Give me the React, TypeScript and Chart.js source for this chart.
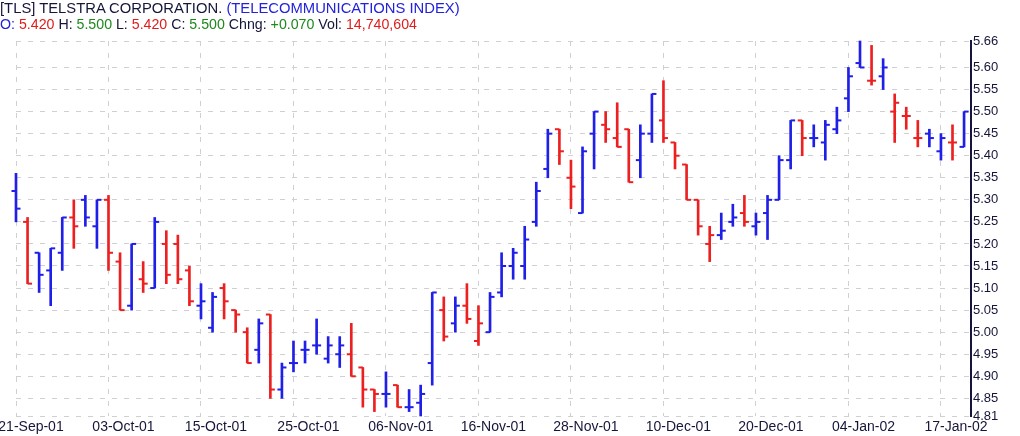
import React, { useEffect, useRef } from 'react';
import { Chart, registerables } from 'chart.js';

Chart.register(...registerables);

// Daily OHLC, 21-Sep-01 .. 18-Jan-02 (83 trading days)
const opens = [
  5.32, 5.25, 5.18, 5.14, 5.18, 5.26, 5.30, 5.24, 5.30, 5.16,
  5.06, 5.12, 5.10, 5.20, 5.20, 5.14, 5.06, 5.01, 5.10, 5.05,
  5.00, 4.96, 5.04, 4.87, 4.93, 4.96, 4.97, 4.94, 4.95, 4.95,
  4.92, 4.87, 4.86, 4.88, 4.83, 4.84, 4.93, 5.05, 5.02, 5.06,
  4.98, 5.00, 5.09, 5.15, 5.15, 5.25, 5.37, 5.46, 5.35, 5.27,
  5.45, 5.47, 5.44, 5.46, 5.39, 5.45, 5.48, 5.43, 5.38, 5.30,
  5.20, 5.22, 5.25, 5.27, 5.24, 5.27, 5.30, 5.39, 5.48, 5.44,
  5.43, 5.46, 5.53, 5.61, 5.57, 5.58, 5.50, 5.49, 5.44, 5.45,
  5.41, 5.43, 5.42,
];
const highs = [
  5.36, 5.26, 5.18, 5.19, 5.26, 5.30, 5.31, 5.30, 5.31, 5.18,
  5.20, 5.16, 5.26, 5.23, 5.22, 5.15, 5.11, 5.09, 5.11, 5.05,
  5.01, 5.03, 5.04, 4.93, 4.98, 4.98, 5.03, 4.99, 4.99, 5.02,
  4.92, 4.87, 4.91, 4.88, 4.87, 4.88, 5.09, 5.08, 5.08, 5.11,
  5.06, 5.09, 5.18, 5.19, 5.24, 5.34, 5.46, 5.46, 5.39, 5.42,
  5.50, 5.50, 5.52, 5.46, 5.47, 5.54, 5.57, 5.43, 5.38, 5.30,
  5.24, 5.27, 5.29, 5.31, 5.27, 5.31, 5.40, 5.48, 5.48, 5.47,
  5.48, 5.51, 5.60, 5.66, 5.65, 5.62, 5.54, 5.51, 5.48, 5.46,
  5.45, 5.47, 5.50,
];
const lows = [
  5.25, 5.11, 5.09, 5.06, 5.14, 5.19, 5.24, 5.19, 5.14, 5.05,
  5.05, 5.09, 5.10, 5.11, 5.11, 5.06, 5.03, 5.00, 5.03, 5.00,
  4.93, 4.93, 4.85, 4.85, 4.91, 4.93, 4.95, 4.93, 4.92, 4.90,
  4.83, 4.82, 4.83, 4.83, 4.82, 4.81, 4.88, 4.98, 5.00, 5.02,
  4.97, 5.00, 5.08, 5.12, 5.12, 5.24, 5.35, 5.38, 5.28, 5.27,
  5.37, 5.43, 5.42, 5.34, 5.35, 5.43, 5.43, 5.37, 5.30, 5.22,
  5.16, 5.21, 5.24, 5.24, 5.22, 5.21, 5.30, 5.37, 5.40, 5.42,
  5.39, 5.45, 5.50, 5.60, 5.56, 5.55, 5.43, 5.46, 5.42, 5.42,
  5.39, 5.39, 5.42,
];
const closes = [
  5.28, 5.11, 5.13, 5.19, 5.26, 5.24, 5.26, 5.30, 5.18, 5.05,
  5.20, 5.11, 5.25, 5.13, 5.12, 5.07, 5.07, 5.08, 5.07, 5.04,
  4.93, 5.02, 4.87, 4.92, 4.93, 4.96, 4.97, 4.97, 4.97, 4.90,
  4.87, 4.86, 4.86, 4.83, 4.83, 4.86, 5.09, 4.99, 5.06, 5.03,
  5.02, 5.08, 5.15, 5.18, 5.21, 5.32, 5.45, 5.41, 5.33, 5.41,
  5.50, 5.46, 5.42, 5.34, 5.45, 5.54, 5.44, 5.40, 5.30, 5.24,
  5.22, 5.23, 5.26, 5.25, 5.25, 5.30, 5.39, 5.48, 5.44, 5.44,
  5.47, 5.48, 5.58, 5.60, 5.57, 5.60, 5.52, 5.49, 5.44, 5.44,
  5.44, 5.43, 5.50,
];

const tickIndex = [0, 8, 16, 24, 32, 40, 48, 56, 64, 72, 80];
const tickLabels = [
  '21-Sep-01', '03-Oct-01', '15-Oct-01', '25-Oct-01', '06-Nov-01', '16-Nov-01',
  '28-Nov-01', '10-Dec-01', '20-Dec-01', '04-Jan-02', '17-Jan-02',
];
const yTicks = [
  4.81, 4.85, 4.9, 4.95, 5.0, 5.05, 5.1, 5.15, 5.2, 5.25, 5.3, 5.35, 5.4,
  5.45, 5.5, 5.55, 5.6, 5.66,
];

const UP = '#1f1fe8';
const DOWN = '#ec2020';
const FONT = '"Liberation Sans", Arial, sans-serif';

const barColors = closes.map((c, i) => (i === 0 || c >= closes[i - 1] ? UP : DOWN));

const ohlcTicks = {
  id: 'ohlcTicks',
  afterDatasetsDraw(chart: any) {
    const meta = chart.getDatasetMeta(0);
    const yScale = chart.scales.y;
    const ctx = chart.ctx;
    ctx.save();
    meta.data.forEach((el: any, i: number) => {
      const x = el.x;
      ctx.fillStyle = barColors[i];
      const yo = yScale.getPixelForValue(opens[i]);
      const yc = yScale.getPixelForValue(closes[i]);
      ctx.fillRect(x - 4.5, yo - 1, 4.5, 2);
      ctx.fillRect(x, yc - 1, 4.5, 2);
    });
    ctx.restore();
  },
};

function StockChart() {
  const ref = useRef<HTMLCanvasElement | null>(null);
  useEffect(() => {
    if (!ref.current) return;
    const chart = new Chart(ref.current, {
      type: 'bar',
      data: {
        datasets: [
          {
            data: highs.map((h, i) => ({ x: i, y: [lows[i], h] })) as any,
            backgroundColor: barColors,
            borderWidth: 0,
            barThickness: 2,
            grouped: false,
            clip: false as any,
          },
        ],
      },
      options: {
        animation: false,
        responsive: true,
        maintainAspectRatio: false,
        layout: { padding: { left: 16, top: 41, right: 0, bottom: 0 } },
        plugins: { legend: { display: false }, tooltip: { enabled: false } },
        scales: {
          x: {
            type: 'linear',
            min: 0,
            max: 82.6,
            offset: false,
            afterBuildTicks: (s: any) => {
              s.ticks = tickIndex.map((v) => ({ value: v }));
            },
            afterFit: (s: any) => {
              s.height = 20;
              s.paddingLeft = 0;
              s.paddingRight = 0;
            },
            grid: { color: '#cfcfd4', lineWidth: 1, drawTicks: false, offset: false },
            border: { display: false, dash: [5, 7] },
            ticks: {
              autoSkip: false,
              maxRotation: 0,
              minRotation: 0,
              padding: 3,
              labelOffset: 15,
              color: '#15153a',
              font: { family: FONT, size: 14 },
              callback: (v: any) => {
                const k = tickIndex.indexOf(Number(v));
                return k >= 0 ? tickLabels[k] : '';
              },
            },
          },
          y: {
            type: 'linear',
            position: 'right',
            min: 4.81,
            max: 5.66,
            afterBuildTicks: (s: any) => {
              s.ticks = yTicks.map((v) => ({ value: v }));
            },
            afterFit: (s: any) => {
              s.width = 49;
              s.paddingTop = 0;
              s.paddingBottom = 0;
            },
            grid: { color: '#cfcfd4', lineWidth: 1, drawTicks: false },
            border: { display: true, color: '#14143c', width: 2, dash: [5, 7] },
            ticks: {
              padding: 2,
              color: '#15153a',
              font: { family: FONT, size: 13 },
              callback: (v: any) => Number(v).toFixed(2),
            },
          },
        },
      },
      plugins: [ohlcTicks],
    });
    return () => chart.destroy();
  }, []);
  return <canvas ref={ref} />;
}

export default function App() {
  const line: React.CSSProperties = {
    position: 'absolute',
    left: 0,
    whiteSpace: 'pre',
    fontFamily: FONT,
    lineHeight: '16px',
    color: '#15153a',
  };
  const blue = '#2222dd';
  const red = '#e01c1c';
  const green = '#1c8a1c';
  return (
    <div style={{ position: 'absolute', left: 0, top: 0, width: 1020, height: 436, background: '#fff' }}>
      <div style={{ position: 'absolute', left: 0, top: 0, width: 1020, height: 436 }}>
        <StockChart />
      </div>
      <div style={{ ...line, top: 0, fontSize: 14.8 }}>
        <span>[TLS] TELSTRA CORPORATION. </span>
        <span style={{ color: blue }}>(TELECOMMUNICATIONS INDEX)</span>
      </div>
      <div style={{ ...line, top: 16, fontSize: 14.2 }}>
        <span style={{ color: blue }}>O: </span>
        <span style={{ color: red }}>5.420</span>
        <span> H: </span>
        <span style={{ color: green }}>5.500</span>
        <span> L: </span>
        <span style={{ color: red }}>5.420</span>
        <span> C: </span>
        <span style={{ color: green }}>5.500</span>
        <span> Chng: </span>
        <span style={{ color: green }}>+0.070</span>
        <span> Vol: </span>
        <span style={{ color: red }}>14,740,604</span>
      </div>
    </div>
  );
}
